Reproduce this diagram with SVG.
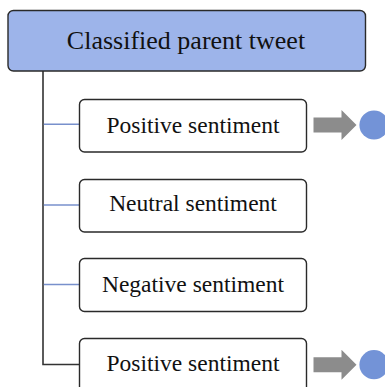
<svg xmlns="http://www.w3.org/2000/svg" width="385" height="387" viewBox="0 0 385 387">
  <style>
    .box { fill: #ffffff; stroke: #2a2a2a; stroke-width: 1.4; }
    .root { fill: #9db4ea; stroke: #2a2a2a; stroke-width: 1.4; }
    .lbl { font-family: "Liberation Serif", "Times New Roman", serif; font-size: 23.5px; fill: #111111; text-anchor: middle; }
    .title { font-size: 26px; }
    .trunk { fill: none; stroke: #333333; stroke-width: 1.6; }
    .branch { fill: none; stroke: #7890cc; stroke-width: 1.6; }
    .arrow { fill: #8c8c8c; }
    .dot { fill: #7393d7; }
  </style>
  <defs>
    <g id="pointer">
      <path class="arrow" d="M313.5,117.5 H341.5 V110 L356.5,125 L341.5,140 V132.5 H313.5 Z"/>
      <circle class="dot" cx="374" cy="125" r="14.6"/>
    </g>
  </defs>

  <g id="connectors">
    <path class="trunk" d="M43,71 V364.5 H79.5"/>
    <path class="branch" d="M43.8,124.3 H79.5"/>
    <path class="branch" d="M43.8,205 H79.5"/>
    <path class="branch" d="M43.8,284.5 H79.5"/>
  </g>

  <g id="parent">
    <rect class="root" x="8" y="10.5" width="357.5" height="60.5" rx="5.5"/>
    <text class="lbl title" x="186" y="49">Classified parent tweet</text>
  </g>

  <g id="positive-1">
    <rect class="box" x="79.5" y="99.5" width="227" height="52.5" rx="5"/>
    <text class="lbl" x="193" y="132.5">Positive sentiment</text>
  </g>

  <g id="neutral">
    <rect class="box" x="79.5" y="179.5" width="227" height="52.5" rx="5"/>
    <text class="lbl" x="193" y="211">Neutral sentiment</text>
  </g>

  <g id="negative">
    <rect class="box" x="79.5" y="258.5" width="227" height="53" rx="5"/>
    <text class="lbl" x="193" y="291.5">Negative sentiment</text>
  </g>

  <g id="positive-2">
    <rect class="box" x="79.5" y="338.5" width="227" height="53" rx="5"/>
    <text class="lbl" x="193" y="371">Positive sentiment</text>
  </g>

  <g id="outcome-1">
    <use href="#pointer"/>
  </g>
  <g id="outcome-2">
    <use href="#pointer" transform="translate(0,239.7)"/>
  </g>
</svg>
